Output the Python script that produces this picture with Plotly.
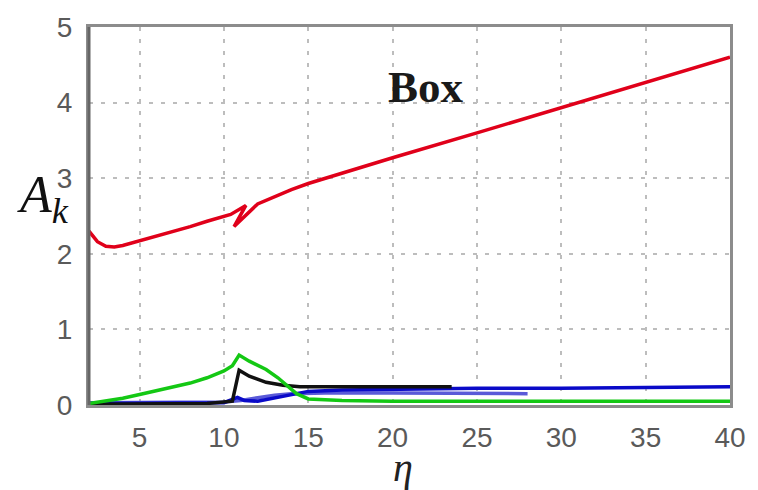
import plotly.graph_objects as go

# Amplitudes A_k versus eta for the box configuration
eta_red = [2.0, 2.5, 3.0, 3.5, 4.0, 5.0, 6.0, 7.0, 8.0, 9.0, 10.0, 10.4, 11.3, 10.6, 12.0,
           13.0, 14.0, 15.0, 16.0, 18.0, 20.0, 25.0, 30.0, 35.0, 40.0]
A_red = [2.30, 2.16, 2.10, 2.09, 2.11, 2.17, 2.23, 2.30, 2.36, 2.43, 2.49, 2.52, 2.64, 2.36, 2.66,
         2.76, 2.85, 2.93, 3.00, 3.13, 3.27, 3.60, 3.93, 4.27, 4.60]

eta_green = [2, 3, 4, 5, 6, 7, 8, 9, 10, 10.5, 10.9, 11.5, 12.5, 13.2, 13.8, 14.3, 15, 17, 20,
             25, 30, 35, 40]
A_green = [0.02, 0.05, 0.09, 0.14, 0.19, 0.24, 0.29, 0.36, 0.45, 0.52, 0.66, 0.58, 0.47, 0.36,
           0.24, 0.15, 0.08, 0.06, 0.05, 0.05, 0.05, 0.05, 0.05]

eta_black = [2, 6, 9, 10.5, 10.9, 11.5, 12.5, 13.5, 14.5, 16, 18, 20, 23.5]
A_black = [0.01, 0.01, 0.02, 0.05, 0.46, 0.38, 0.30, 0.26, 0.24, 0.24, 0.24, 0.24, 0.24]

eta_blue = [2, 5, 8, 10, 10.8, 11.2, 12, 13, 14, 15, 17, 20, 25, 30, 35, 40]
A_blue = [0.02, 0.02, 0.02, 0.03, 0.10, 0.06, 0.05, 0.09, 0.14, 0.18, 0.20, 0.21, 0.22, 0.22,
          0.23, 0.24]

eta_slate = [2, 6, 10, 11, 12, 13, 14, 16, 20, 24, 28]
A_slate = [0.03, 0.03, 0.04, 0.06, 0.10, 0.13, 0.15, 0.16, 0.16, 0.15, 0.15]

x_ticks = [5, 10, 15, 20, 25, 30, 35, 40]
y_ticks = [0, 1, 2, 3, 4, 5]

fig = go.Figure()
series = [
    (eta_slate, A_slate, "#5a5ad8"),
    (eta_blue, A_blue, "#0a0ac8"),
    (eta_black, A_black, "#111111"),
    (eta_green, A_green, "#14c814"),
    (eta_red, A_red, "#e0001a"),
]
for xs, ys, col in series:
    fig.add_trace(go.Scatter(x=xs, y=ys, mode="lines",
                             line=dict(color=col, width=3.5), showlegend=False))

tick_font = dict(family="Liberation Sans, Arial, sans-serif", size=28, color="#5a5a5a")
fig.update_xaxes(range=[2, 40], tickvals=x_ticks, showgrid=True, gridcolor="#bdbdbd",
                 gridwidth=2, griddash="4px,8px", zeroline=False, showline=True,
                 linecolor="#8c8c8c", linewidth=3, mirror=True, ticks="",
                 tickfont=tick_font, ticklabelstandoff=5, ticklabeloverflow="allow")
fig.update_yaxes(range=[0, 5], tickvals=y_ticks, showgrid=True, gridcolor="#bdbdbd",
                 gridwidth=2, griddash="4px,8px", zeroline=False, showline=True,
                 linecolor="#8c8c8c", linewidth=3, mirror=True, ticks="",
                 tickfont=tick_font, ticklabelstandoff=8, ticklabeloverflow="allow")

# darker left spine
fig.add_shape(type="line", xref="paper", yref="paper", x0=0, x1=0, y0=0, y1=1,
              line=dict(color="#666666", width=3))

fig.add_annotation(x=22.0, y=4.2, xref="x", yref="y", text="<b>Box</b>", showarrow=False,
                   font=dict(family="Liberation Serif, Times New Roman, serif", size=45,
                             color="#1a1a1a"))
fig.add_annotation(x=-0.115, y=0.545, xref="paper", yref="paper",
                   text="<i>A</i><sub><i>k</i></sub>", showarrow=False,
                   font=dict(family="Liberation Serif, Times New Roman, serif", size=52,
                             color="#111111"))
fig.add_annotation(x=0.49, y=-0.23, xref="paper", yref="paper", text="<i>η</i>",
                   showarrow=False,
                   font=dict(family="Liberation Serif, Times New Roman, serif", size=40,
                             color="#222222"))

fig.update_layout(width=758, height=490, margin=dict(l=89, r=16, t=22, b=85),
                  paper_bgcolor="white", plot_bgcolor="white")

fig.write_html("out.html")
